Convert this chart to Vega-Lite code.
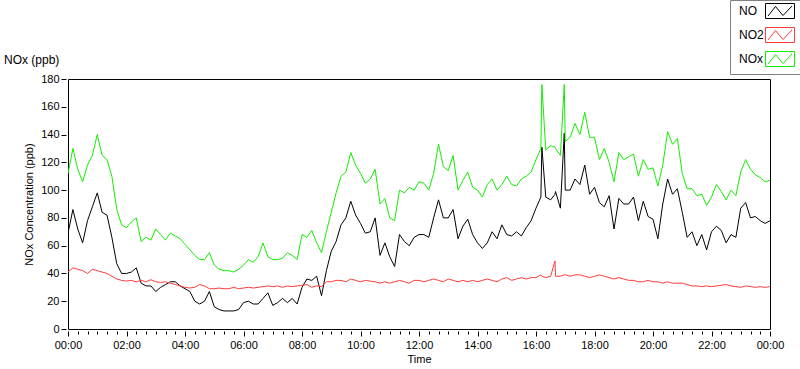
{
 "$schema": "https://vega.github.io/schema/vega-lite/v6.json",
 "width": 702,
 "height": 250,
 "autosize": {"type": "none"},
 "padding": {"left": 68, "top": 79, "right": 30, "bottom": 40},
 "background": "white",
 "title": {"text": "NOx (ppb)", "anchor": "start", "frame": "group", "dx": -64, "offset": 0, "dy": 76, "baseline": "alphabetic", "font": "Liberation Sans", "fontSize": 12, "fontWeight": "normal", "color": "#000000"},
 "config": {"view": {"stroke": "#000000", "strokeWidth": 1}, "font": "Liberation Sans"},
 "data": {"values": [
  {"t":0,"NO":69,"NO2":41,"NOx":112},{"t":10,"NO":86,"NO2":44,"NOx":130},{"t":20,"NO":72,"NO2":43,"NOx":115},{"t":30,"NO":62,"NO2":42,"NOx":106},
  {"t":40,"NO":78,"NO2":40,"NOx":118},{"t":50,"NO":88,"NO2":43,"NOx":125},{"t":60,"NO":98,"NO2":42,"NOx":140},{"t":70,"NO":84,"NO2":41,"NOx":125},
  {"t":80,"NO":82,"NO2":40,"NOx":122},{"t":90,"NO":66,"NO2":38,"NOx":110},{"t":100,"NO":47,"NO2":36,"NOx":86},{"t":110,"NO":40,"NO2":35,"NOx":75},
  {"t":120,"NO":40,"NO2":34.5,"NOx":73},{"t":130,"NO":41,"NO2":35,"NOx":77},{"t":140,"NO":44,"NO2":34,"NOx":80},{"t":150,"NO":33,"NO2":35,"NOx":63},
  {"t":160,"NO":31,"NO2":34,"NOx":66},{"t":170,"NO":31,"NO2":35.5,"NOx":64},{"t":180,"NO":27,"NO2":34,"NOx":72},{"t":190,"NO":30,"NO2":33.5,"NOx":68},
  {"t":200,"NO":32,"NO2":34,"NOx":64},{"t":210,"NO":34,"NO2":33,"NOx":69},{"t":220,"NO":34,"NO2":32,"NOx":67},{"t":230,"NO":31,"NO2":31,"NOx":65},
  {"t":240,"NO":29,"NO2":30,"NOx":61},{"t":250,"NO":27,"NO2":29.5,"NOx":57},{"t":260,"NO":20,"NO2":30,"NOx":53},{"t":270,"NO":18,"NO2":32,"NOx":50},
  {"t":280,"NO":20,"NO2":31,"NOx":50},{"t":290,"NO":27,"NO2":29,"NOx":55},{"t":300,"NO":16,"NO2":29,"NOx":46},{"t":310,"NO":14,"NO2":29.5,"NOx":43},
  {"t":320,"NO":13,"NO2":29,"NOx":42},{"t":330,"NO":13,"NO2":29,"NOx":42},{"t":340,"NO":13,"NO2":30,"NOx":41},{"t":350,"NO":14,"NO2":29,"NOx":43},
  {"t":360,"NO":19,"NO2":29.5,"NOx":46},{"t":370,"NO":20,"NO2":30,"NOx":50},{"t":380,"NO":18,"NO2":29.5,"NOx":48},{"t":390,"NO":18,"NO2":30,"NOx":52},
  {"t":400,"NO":22,"NO2":30.5,"NOx":62},{"t":410,"NO":26,"NO2":31,"NOx":52},{"t":420,"NO":17,"NO2":30.5,"NOx":50},{"t":430,"NO":19,"NO2":31,"NOx":50},
  {"t":440,"NO":22,"NO2":30,"NOx":51},{"t":450,"NO":19,"NO2":31,"NOx":55},{"t":460,"NO":22,"NO2":30.5,"NOx":53},{"t":470,"NO":18,"NO2":31,"NOx":50},
  {"t":480,"NO":30,"NO2":31.5,"NOx":68},{"t":490,"NO":36,"NO2":32,"NOx":66},{"t":500,"NO":35,"NO2":30,"NOx":71},{"t":510,"NO":38,"NO2":31,"NOx":62},
  {"t":520,"NO":24,"NO2":30.5,"NOx":55},{"t":530,"NO":42,"NO2":34,"NOx":70},{"t":540,"NO":56,"NO2":34,"NOx":84},{"t":550,"NO":63,"NO2":35,"NOx":98},
  {"t":560,"NO":75,"NO2":35,"NOx":110},{"t":570,"NO":80,"NO2":34,"NOx":113},{"t":580,"NO":92,"NO2":36,"NOx":127},{"t":590,"NO":82,"NO2":35,"NOx":118},
  {"t":600,"NO":76,"NO2":34,"NOx":112},{"t":610,"NO":69,"NO2":35,"NOx":105},{"t":620,"NO":70,"NO2":34.5,"NOx":108},{"t":630,"NO":80,"NO2":34,"NOx":115},
  {"t":640,"NO":53,"NO2":33,"NOx":90},{"t":650,"NO":62,"NO2":34,"NOx":94},{"t":660,"NO":52,"NO2":33,"NOx":80},{"t":670,"NO":45,"NO2":34,"NOx":78},
  {"t":680,"NO":68,"NO2":35,"NOx":100},{"t":690,"NO":63,"NO2":34,"NOx":98},{"t":700,"NO":60,"NO2":33,"NOx":102},{"t":710,"NO":66,"NO2":35,"NOx":100},
  {"t":720,"NO":68,"NO2":35,"NOx":106},{"t":730,"NO":68,"NO2":34,"NOx":105},{"t":740,"NO":66,"NO2":35,"NOx":100},{"t":750,"NO":80,"NO2":36,"NOx":112},
  {"t":760,"NO":93,"NO2":35,"NOx":133},{"t":770,"NO":80,"NO2":34,"NOx":117},{"t":780,"NO":80,"NO2":36,"NOx":114},{"t":790,"NO":86,"NO2":35,"NOx":125},
  {"t":800,"NO":65,"NO2":34,"NOx":100},{"t":810,"NO":74,"NO2":35,"NOx":107},{"t":820,"NO":79,"NO2":34,"NOx":113},{"t":830,"NO":68,"NO2":35,"NOx":102},
  {"t":840,"NO":62,"NO2":34,"NOx":100},{"t":850,"NO":58,"NO2":35,"NOx":95},{"t":860,"NO":62,"NO2":36,"NOx":104},{"t":870,"NO":70,"NO2":35,"NOx":108},
  {"t":880,"NO":65,"NO2":34,"NOx":100},{"t":890,"NO":75,"NO2":36,"NOx":104},{"t":900,"NO":68,"NO2":37,"NOx":110},{"t":910,"NO":67,"NO2":35,"NOx":104},
  {"t":920,"NO":70,"NO2":36,"NOx":103},{"t":930,"NO":67,"NO2":37,"NOx":108},{"t":940,"NO":73,"NO2":36,"NOx":110},{"t":950,"NO":78,"NO2":37,"NOx":113},
  {"t":960,"NO":87,"NO2":37,"NOx":122},{"t":970,"NO":95,"NO2":39,"NOx":130},{"t":972,"NO":131,"NO2":38,"NOx":176},{"t":980,"NO":95,"NO2":37,"NOx":129},
  {"t":990,"NO":93,"NO2":38,"NOx":132},{"t":999,"NO":97,"NO2":49,"NOx":131},{"t":1000,"NO":99,"NO2":38,"NOx":130},{"t":1010,"NO":87,"NO2":38,"NOx":125},
  {"t":1018,"NO":141,"NO2":39,"NOx":176},{"t":1020,"NO":100,"NO2":39,"NOx":135},{"t":1030,"NO":100,"NO2":38,"NOx":138},{"t":1040,"NO":108,"NO2":39,"NOx":148},
  {"t":1050,"NO":104,"NO2":39,"NOx":140},{"t":1060,"NO":118,"NO2":38,"NOx":156},{"t":1070,"NO":97,"NO2":37,"NOx":138},{"t":1080,"NO":102,"NO2":38,"NOx":138},
  {"t":1090,"NO":91,"NO2":39,"NOx":122},{"t":1100,"NO":88,"NO2":38,"NOx":130},{"t":1110,"NO":96,"NO2":37,"NOx":120},{"t":1120,"NO":72,"NO2":36,"NOx":106},
  {"t":1130,"NO":94,"NO2":37,"NOx":127},{"t":1140,"NO":90,"NO2":36,"NOx":122},{"t":1150,"NO":90,"NO2":35,"NOx":124},{"t":1160,"NO":95,"NO2":35,"NOx":126},
  {"t":1170,"NO":78,"NO2":34,"NOx":110},{"t":1180,"NO":92,"NO2":34,"NOx":122},{"t":1190,"NO":81,"NO2":35,"NOx":115},{"t":1200,"NO":79,"NO2":34,"NOx":116},
  {"t":1210,"NO":65,"NO2":34,"NOx":103},{"t":1220,"NO":90,"NO2":33,"NOx":118},{"t":1230,"NO":108,"NO2":34,"NOx":142},{"t":1240,"NO":97,"NO2":33,"NOx":133},
  {"t":1250,"NO":101,"NO2":33,"NOx":137},{"t":1260,"NO":84,"NO2":33,"NOx":112},{"t":1270,"NO":66,"NO2":32,"NOx":101},{"t":1280,"NO":70,"NO2":31,"NOx":101},
  {"t":1290,"NO":60,"NO2":31,"NOx":96},{"t":1300,"NO":68,"NO2":30.5,"NOx":97},{"t":1310,"NO":57,"NO2":31,"NOx":89},{"t":1320,"NO":70,"NO2":30.5,"NOx":95},
  {"t":1330,"NO":74,"NO2":31,"NOx":104},{"t":1340,"NO":71,"NO2":31.5,"NOx":99},{"t":1350,"NO":62,"NO2":32,"NOx":93},{"t":1360,"NO":68,"NO2":31,"NOx":100},
  {"t":1370,"NO":66,"NO2":30.5,"NOx":96},{"t":1380,"NO":87,"NO2":30,"NOx":113},{"t":1390,"NO":91,"NO2":31,"NOx":122},{"t":1400,"NO":80,"NO2":30.5,"NOx":115},
  {"t":1410,"NO":81,"NO2":30,"NOx":111},{"t":1420,"NO":78,"NO2":30.5,"NOx":109},{"t":1430,"NO":76,"NO2":30,"NOx":106},{"t":1440,"NO":78,"NO2":30.5,"NOx":107}
 ]},
 "transform": [{"fold": ["NO", "NO2", "NOx"], "as": ["series", "value"]}],
 "mark": {"type": "line", "strokeWidth": 1, "clip": true},
 "encoding": {
  "x": {
   "field": "t", "type": "quantitative",
   "scale": {"domain": [0, 1440], "nice": false, "zero": false},
   "axis": {
    "title": "Time",
    "values": [0,20,40,60,80,100,120,140,160,180,200,220,240,260,280,300,320,340,360,380,400,420,440,460,480,500,520,540,560,580,600,620,640,660,680,700,720,740,760,780,800,820,840,860,880,900,920,940,960,980,1000,1020,1040,1060,1080,1100,1120,1140,1160,1180,1200,1220,1240,1260,1280,1300,1320,1340,1360,1380,1400,1420,1440],
    "labelExpr": "datum.value % 120 === 0 ? ((floor(datum.value / 60) % 24 < 10 ? '0' : '') + (floor(datum.value / 60) % 24) + ':00') : ''",
    "offset": 2, "domain": false, "grid": false,
    "tickColor": "#000000",
    "tickSize": {"condition": {"test": "datum.value % 120 === 0", "value": 5}, "value": 3},
    "labelOverlap": false, "labelFlush": false, "labelPadding": 3,
    "labelFont": "Liberation Sans", "labelFontSize": 11, "labelColor": "#000000",
    "titleFont": "Liberation Sans", "titleFontSize": 11, "titleFontWeight": "normal", "titleColor": "#000000", "titlePadding": 3
   }
  },
  "y": {
   "field": "value", "type": "quantitative",
   "scale": {"domain": [0, 180], "nice": false},
   "axis": {
    "title": "NOx Concentration (ppb)",
    "values": [0,20,40,60,80,100,120,140,160,180],
    "offset": 2, "domain": false, "grid": false,
    "tickColor": "#000000", "tickSize": 5,
    "labelPadding": 2,
    "labelFont": "Liberation Sans", "labelFontSize": 11, "labelColor": "#000000",
    "titleFont": "Liberation Sans", "titleFontSize": 11, "titleFontWeight": "normal", "titleColor": "#000000", "titlePadding": 6
   }
  },
  "color": {
   "field": "series", "type": "nominal",
   "scale": {"domain": ["NO", "NO2", "NOx"], "range": ["#000000", "#ff3c3c", "#11ee00"]},
   "legend": {
    "orient": "none", "legendX": 662, "legendY": -79,
    "title": null,
    "strokeColor": "#808080", "fillColor": "#ffffff", "padding": 5,
    "symbolType": "M-2.9,-1.5H2.9V1.5H-2.9Z M-2.4,1L-0.9,-0.9L0.6,0.9L2.4,-1",
    "symbolSize": 100, "symbolStrokeWidth": 1,
    "symbolOffset": 39, "labelOffset": -47,
    "rowPadding": 4,
    "labelFont": "Liberation Sans", "labelFontSize": 12, "labelColor": "#000000",
    "encode": {"symbols": {"update": {"fill": {"value": "#ffffff"}, "strokeWidth": {"value": 1}}}}
   }
  }
 }
}
